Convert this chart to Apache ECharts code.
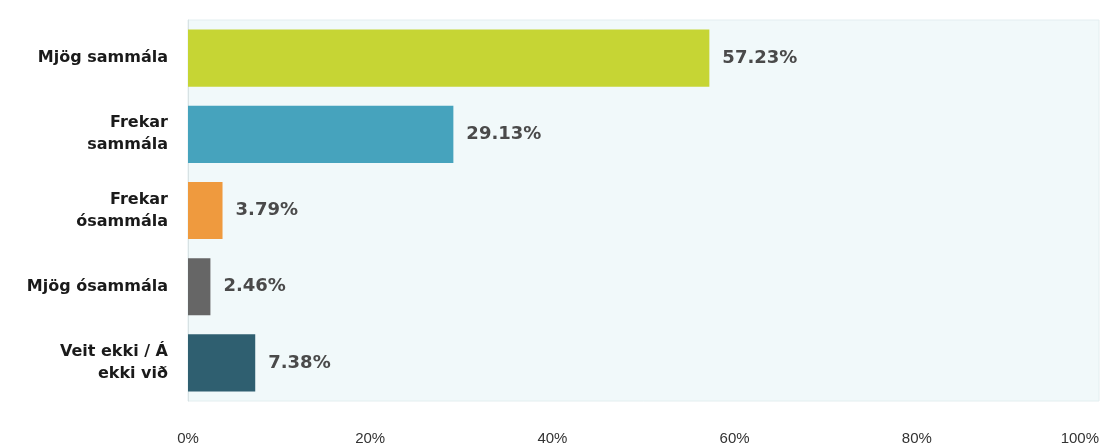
<!DOCTYPE html>
<html><head><meta charset="utf-8">
<script src="https://cdn.jsdelivr.net/npm/echarts@6/dist/echarts.min.js"></script>
<style>html,body{margin:0;padding:0;background:#fff}#c{width:1102px;height:446px}</style>
</head><body><div id="c"></div>
<script>
const categories = ['Mjög sammála', 'Frekar\nsammála', 'Frekar\nósammála', 'Mjög ósammála', 'Veit ekki / Á\nekki við'];
const values = [57.23, 29.13, 3.79, 2.46, 7.38];
const barColors = ['#c6d534', '#46a3bd', '#ef9a3e', '#666666', '#2f5f70'];
const xTicks = [0, 20, 40, 60, 80, 100];

const chart = echarts.init(document.getElementById('c'));
chart.setOption({
  animation: false,
  grid: {left: 188, right: 0, top: 20, bottom: 45, show: true, backgroundColor: '#f1f9fa', borderColor: '#e3eef0', borderWidth: 1},
  xAxis: {
    type: 'value', min: 0, max: 100, interval: 20,
    axisLine: {show: false}, axisTick: {show: false}, splitLine: {show: false},
    axisLabel: {formatter: v => xTicks.includes(v) ? v + '%' : '', margin: 30, color: '#333', fontFamily: 'Liberation Sans', fontSize: 15, alignMaxLabel: 'right'}
  },
  yAxis: {
    type: 'category', data: categories, inverse: true,
    axisLine: {show: true, lineStyle: {color: '#d8e2e4'}}, axisTick: {show: false},
    axisLabel: {margin: 20, color: '#1a1a1a', fontFamily: 'DejaVu Sans', fontWeight: 'bold', fontSize: 16, lineHeight: 22, align: 'right'}
  },
  series: [{
    type: 'bar', data: values.map((v, i) => ({value: v, itemStyle: {color: barColors[i]}})),
    barCategoryGap: '25%',
    label: {show: true, position: 'right', distance: 13, formatter: p => p.value.toFixed(2) + '%', color: '#4a4a4a', fontFamily: 'DejaVu Sans', fontWeight: 'bold', fontSize: 18}
  }]
});
</script></body></html>
